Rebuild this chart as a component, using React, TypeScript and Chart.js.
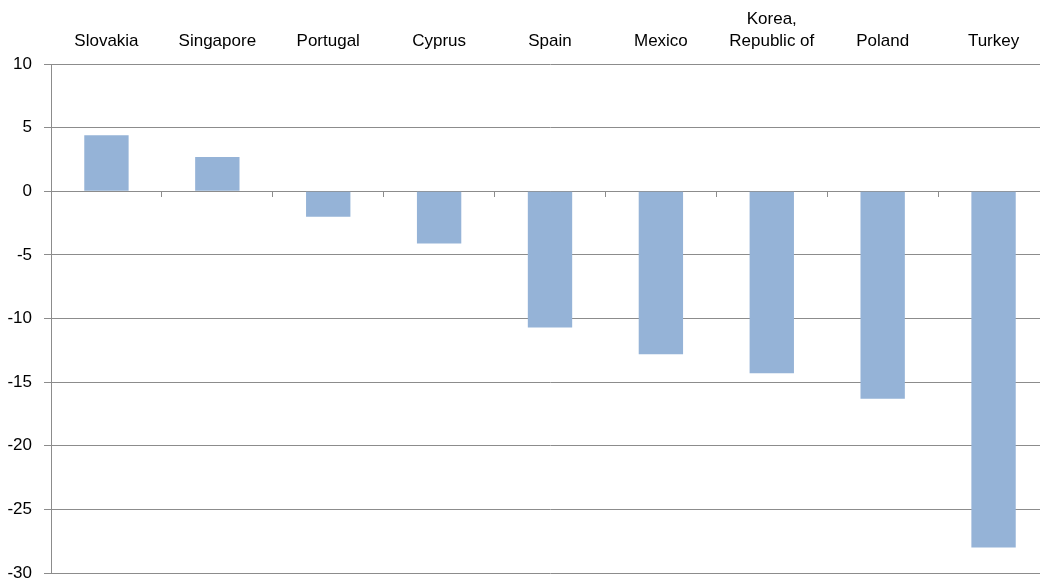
import React, { useEffect, useRef } from "react";
import { Chart, registerables } from "chart.js";

Chart.register(...registerables);

const categories: string[] = [
  "Slovakia",
  "Singapore",
  "Portugal",
  "Cyprus",
  "Spain",
  "Mexico",
  "Korea, Republic of",
  "Poland",
  "Turkey",
];

const categoryLabelLines: (string | string[])[] = [
  "Slovakia",
  "Singapore",
  "Portugal",
  "Cyprus",
  "Spain",
  "Mexico",
  ["Korea,", "Republic of"],
  "Poland",
  "Turkey",
];

const values: number[] = [4.4, 2.7, -2.0, -4.1, -10.7, -12.8, -14.3, -16.3, -28.0];

const yMin = -30;
const yMax = 10;
const yStep = 5;

const FONT = "'Liberation Sans', Arial, sans-serif";
const GRID = "#8c8c8c";

export default function App() {
  const ref = useRef<HTMLCanvasElement | null>(null);

  useEffect(() => {
    if (!ref.current) return;
    const chart = new Chart(ref.current, {
      type: "bar",
      data: {
        labels: categories,
        datasets: [
          {
            data: values,
            backgroundColor: "#95B3D7",
            borderWidth: 0,
            categoryPercentage: 1,
            barPercentage: 0.4,
            xAxisID: "x",
            yAxisID: "y",
          },
        ],
      },
      options: {
        responsive: false,
        animation: false,
        devicePixelRatio: 1,
        layout: { padding: { left: 0, right: 1, top: 0, bottom: 8 } },
        plugins: {
          legend: { display: false },
          tooltip: { enabled: false },
        },
        scales: {
          xTop: {
            type: "category",
            position: "top",
            labels: categoryLabelLines as any,
            offset: true,
            grid: { display: false, drawTicks: false },
            border: { display: false },
            ticks: {
              color: "#000",
              font: { family: FONT, size: 17, lineHeight: 1.3 },
              padding: 12,
              maxRotation: 0,
              autoSkip: false,
            },
            afterFit: (s: any) => {
              s.height = 64;
              s.paddingLeft = 0;
              s.paddingRight = 0;
            },
          },
          x: {
            type: "category",
            position: { y: 0 } as any,
            offset: true,
            grid: {
              drawOnChartArea: false,
              drawTicks: true,
              tickLength: 5,
              offset: true,
              color: GRID,
            },
            border: { display: true, color: GRID, width: 1 },
            ticks: { display: false },
            afterFit: (s: any) => {
              s.height = 0;
              s.paddingLeft = 0;
              s.paddingRight = 0;
            },
          },
          y: {
            type: "linear",
            position: "left",
            min: yMin,
            max: yMax,
            grid: {
              color: GRID,
              lineWidth: 1,
              drawTicks: true,
              tickLength: 7,
            },
            border: { display: true, color: GRID, width: 1 },
            ticks: {
              stepSize: yStep,
              color: "#000",
              font: { family: FONT, size: 17 },
              padding: 12,
            },
            afterFit: (s: any) => {
              s.width = 51;
              s.paddingTop = 0;
              s.paddingBottom = 0;
            },
          },
        },
      },
    });
    return () => chart.destroy();
  }, []);

  return (
    <div
      style={{
        position: "fixed",
        left: 0,
        top: 0,
        width: 1040,
        height: 581,
        overflow: "hidden",
        background: "#fff",
      }}
    >
      <canvas ref={ref} width={1050} height={581} style={{ display: "block" }} />
    </div>
  );
}
